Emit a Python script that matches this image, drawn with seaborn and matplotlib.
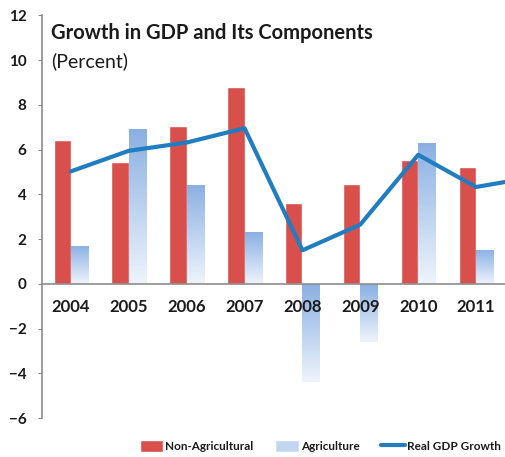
import numpy as np
import pandas as pd
import matplotlib
matplotlib.use("Agg")
import matplotlib.pyplot as plt
from matplotlib.colors import LinearSegmentedColormap
from matplotlib.patches import Patch
from matplotlib.lines import Line2D
import seaborn as sns

# values (percent); the 2012 bar values are not visible
years = ["2004", "2005", "2006", "2007", "2008", "2009", "2010", "2011", "2012"]
non_agri = [6.45, 5.47, 7.07, 8.79, 3.62, 4.48, 5.55, 5.22, np.nan]
agri = [1.71, 6.92, 4.43, 2.32, -4.38, -2.58, 6.32, 1.53, np.nan]
gdp = [5.03, 5.95, 6.32, 6.96, 1.50, 2.65, 5.77, 4.33, 4.78]
series = ["Non-Agricultural", "Agriculture", "Real GDP Growth"]

red = "#D94F4B"
blue_top = "#8AB0E3"
blue_bot = "#EEF4FC"
line_c = "#1F7DC0"
grey = "#8C8C8C"
txt = "#1A1A1A"

df = pd.DataFrame({
    "year": years * 2,
    "series": [series[0]] * len(years) + [series[1]] * len(years),
    "value": non_agri + agri,
}).dropna()

sns.set_style("white")
plt.rcParams["font.family"] = ["Lato", "DejaVu Sans"]

fig = plt.figure(figsize=(5.05, 4.57), dpi=100)
ax = fig.add_axes([42 / 505, 1 - 418 / 457, 1 - 42 / 505, (418 - 15.5) / 457])

sns.barplot(data=df, x="year", y="value", hue="series", order=years,
            hue_order=series[:2], palette=[red, blue_top], width=0.6,
            saturation=1, errorbar=None, legend=False, ax=ax)

# gradient fill for the agriculture bars (dark on top, fading downward)
cmap = LinearSegmentedColormap.from_list("agri", [blue_top, blue_bot])
grad = np.linspace(0, 1, 100).reshape(-1, 1)
for p in ax.containers[1]:
    x, y = p.get_x(), p.get_y()
    w, h = p.get_width(), p.get_height()
    if not np.isfinite(h):
        continue
    lo, hi = min(y, y + h), max(y, y + h)
    im = ax.imshow(grad, cmap=cmap, aspect="auto", origin="upper",
                   extent=[x, x + w, lo, hi], zorder=2)
    im.set_clip_path(p)
    p.set_facecolor("none")
    p.set_edgecolor("none")

ax.plot(np.arange(len(years)), gdp, color=line_c, lw=3, zorder=5,
        solid_joinstyle="round")

ax.set_xlim(-0.5, 7.376)
ax.set_ylim(-6, 12)
ax.set_yticks(range(-6, 13, 2))
ax.set_xlabel("")
ax.set_ylabel("")
ax.set_axisbelow(False)  # year labels sit on top of the negative bars

sns.despine(ax=ax, top=True, right=True)
ax.spines["bottom"].set_position(("data", 0))
for s in ["bottom", "left"]:
    ax.spines[s].set_color(grey)
    ax.spines[s].set_linewidth(1.2)

ax.tick_params(axis="x", which="major", length=0, pad=11,
               labelsize=12, labelcolor=txt)
ax.set_xticks(np.arange(-0.5, 8, 1), minor=True)
ax.tick_params(axis="x", which="minor", length=4, color=grey, direction="out")
ax.tick_params(axis="y", length=3, color=grey, direction="out", pad=8,
               labelsize=11, labelcolor=txt)
ax.tick_params(left=True)
for lab in ax.get_xticklabels() + ax.get_yticklabels():
    lab.set_fontweight("bold")

fig.text(51 / 505, 1 - 39 / 457, "Growth in GDP and Its Components",
         fontsize=14.5, fontweight="bold", color=txt, va="baseline")
fig.text(51 / 505, 1 - 67 / 457, "(Percent)",
         fontsize=14, color=txt, va="baseline")

handles = [Patch(facecolor=red), Patch(facecolor="#C3D6F1"),
           Line2D([0], [0], color=line_c, lw=3)]
fig.legend(handles, series, loc="center", bbox_to_anchor=(0.634, 0.024),
           ncol=3, frameon=False, handlelength=2.0, handleheight=1.1,
           handletextpad=0.2, columnspacing=1.8,
           prop={"size": 8.5, "weight": "bold"}, labelcolor=txt)

fig.savefig("out.png", dpi=100)
